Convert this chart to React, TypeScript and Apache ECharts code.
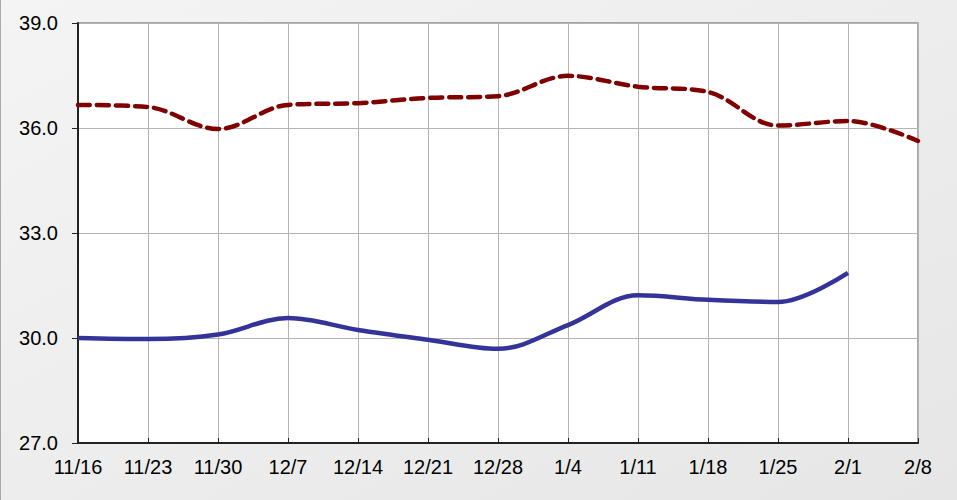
import React, { useEffect, useRef } from "react";
import * as echarts from "echarts";

const categories = ["11/16", "11/23", "11/30", "12/7", "12/14", "12/21", "12/28", "1/4", "1/11", "1/18", "1/25", "2/1", "2/8"];
const redValues = [36.66, 36.6, 35.97, 36.66, 36.71, 36.86, 36.91, 37.49, 37.18, 37.03, 36.07, 36.2, 35.63];
const blueValues: (number | null)[] = [30.0, 29.97, 30.1, 30.57, 30.23, 29.95, 29.69, 30.37, 31.22, 31.09, 31.03, 31.86, null];
const yTicks = { min: 27, max: 39, interval: 3 };

export default function App() {
  const ref = useRef<HTMLDivElement>(null);
  useEffect(() => {
    if (!ref.current) return;
    const chart = echarts.init(ref.current, null, { renderer: "svg" });
    chart.setOption({
      animation: false,
      backgroundColor: {
        type: "linear",
        x: 0,
        y: 0,
        x2: 1,
        y2: 1,
        colorStops: [
          { offset: 0, color: "#f4f4f4" },
          { offset: 1, color: "#e6e6e6" },
        ],
      },
      textStyle: { fontFamily: "Liberation Sans, Arial, sans-serif" },
      grid: {
        left: 77,
        top: 23,
        width: 840,
        height: 420,
        show: true,
        backgroundColor: "#ffffff",
        borderColor: "#8c8c8c",
        borderWidth: 1.5,
      },
      xAxis: {
        type: "category",
        data: categories,
        boundaryGap: false,
        axisLine: { lineStyle: { color: "#222", width: 2 } },
        axisTick: { inside: true, length: 5, lineStyle: { color: "#222" } },
        axisLabel: { color: "#000", fontSize: 20, margin: 14, interval: 0 },
        splitLine: { show: true, lineStyle: { color: "#b4b4b4", width: 1 } },
      },
      yAxis: {
        type: "value",
        min: yTicks.min,
        max: yTicks.max,
        interval: yTicks.interval,
        axisLine: { show: true, lineStyle: { color: "#222", width: 2 } },
        axisTick: { show: true, length: 6, lineStyle: { color: "#222" } },
        axisLabel: {
          color: "#000",
          fontSize: 20,
          margin: 20,
          formatter: (v: number) => v.toFixed(1),
        },
        splitLine: { show: true, lineStyle: { color: "#b4b4b4", width: 1 } },
      },
      series: [
        {
          type: "line",
          data: redValues,
          smooth: 0.35,
          symbol: "none",
          lineStyle: { color: "#800000", width: 4.5, type: [12, 7], cap: "round" },
        },
        {
          type: "line",
          data: blueValues,
          smooth: 0.35,
          symbol: "none",
          lineStyle: { color: "#333399", width: 4.5 },
        },
      ],
    });
    return () => chart.dispose();
  }, []);
  return (
    <div
      ref={ref}
      style={{
        position: "fixed",
        left: 0,
        top: 0,
        width: 957,
        height: 500,
        borderLeft: "1px solid #aaaaaa",
        boxSizing: "border-box",
      }}
    />
  );
}
